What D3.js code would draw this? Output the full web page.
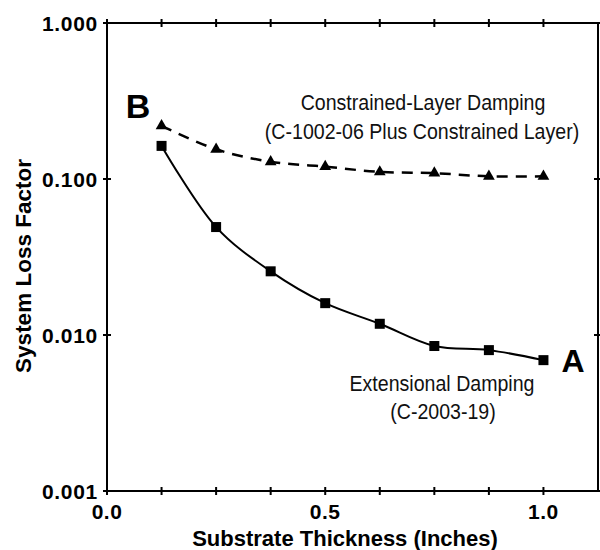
<!DOCTYPE html>
<html>
<head>
<meta charset="utf-8">
<script src="https://cdn.jsdelivr.net/npm/d3@7"></script>
<style>
  body { margin: 0; background: #fff; }
  text { fill: #000; }
</style>
</head>
<body>
<div id="chart"></div>
<script>
// data
const thickness = [0.125, 0.25, 0.375, 0.5, 0.625, 0.75, 0.875, 1.0];
const extensional = [0.163, 0.0492, 0.0256, 0.0160, 0.0118, 0.0085, 0.0080, 0.0069];
const constrained = [0.219, 0.155, 0.129, 0.120, 0.111, 0.109, 0.104, 0.104];
const xTicks = [0, 0.125, 0.25, 0.375, 0.5, 0.625, 0.75, 0.875, 1.0];
const xLabels = [0, 0.5, 1.0];
const yTicks = [0.001, 0.01, 0.1, 1];

const margin = { top: 23, right: 2, bottom: 59, left: 107 },
  width = 600 - margin.left - margin.right,
  height = 550 - margin.top - margin.bottom;

const svg = d3.select('#chart')
  .append('svg')
  .attr('width', 600)
  .attr('height', 550)
  .style('font-family', '"Liberation Sans", Arial, sans-serif');

const g = svg.append('g')
  .attr('transform', `translate(${margin.left},${margin.top})`);

const x = d3.scaleLinear().domain([0, 1.125]).range([0, width]);
const y = d3.scaleLog().domain([0.001, 1]).range([height, 0]);

// frame
g.append('rect')
  .attr('width', width)
  .attr('height', height)
  .attr('fill', 'none')
  .attr('stroke', '#000')
  .attr('stroke-width', 2);

// ticks crossing the frame
const tickLen = 4;
[0, height].forEach(yy => {
  g.selectAll(null)
    .data(xTicks)
    .join('line')
    .attr('x1', d => x(d)).attr('x2', d => x(d))
    .attr('y1', yy - tickLen).attr('y2', yy + tickLen)
    .attr('stroke', '#000').attr('stroke-width', 2);
});
[0, width].forEach(xx => {
  g.selectAll(null)
    .data(yTicks)
    .join('line')
    .attr('y1', d => y(d)).attr('y2', d => y(d))
    .attr('x1', xx - tickLen).attr('x2', xx + tickLen)
    .attr('stroke', '#000').attr('stroke-width', 2);
});

// tick labels
g.selectAll('text.xlab')
  .data(xLabels)
  .join('text')
  .attr('class', 'xlab')
  .attr('x', d => x(d))
  .attr('y', height + 28)
  .attr('text-anchor', 'middle')
  .style('font-size', '21px')
  .style('font-weight', 'bold')
  .style('letter-spacing', '0.5px')
  .text(d => d3.format('.1f')(d));

g.selectAll('text.ylab')
  .data(yTicks)
  .join('text')
  .attr('class', 'ylab')
  .attr('x', -9)
  .attr('y', d => y(d))
  .attr('dy', '0.36em')
  .attr('text-anchor', 'end')
  .style('font-size', '21px')
  .style('font-weight', 'bold')
  .style('letter-spacing', '0.7px')
  .text(d => d3.format('.3f')(d));

// axis titles
svg.append('text')
  .attr('x', 345)
  .attr('y', 546)
  .attr('text-anchor', 'middle')
  .style('font-size', '22px')
  .style('font-weight', 'bold')
  .text('Substrate Thickness (Inches)');

svg.append('text')
  .attr('transform', 'translate(31,266) rotate(-90)')
  .attr('text-anchor', 'middle')
  .style('font-size', '22.5px')
  .style('font-weight', 'bold')
  .text('System Loss Factor');

// lines
const ext = thickness.map((t, i) => ({ t, v: extensional[i] }));
const con = thickness.map((t, i) => ({ t, v: constrained[i] }));

const lineGen = d3.line()
  .x(d => x(d.t))
  .y(d => y(d.v))
  .curve(d3.curveCatmullRom);

g.append('path')
  .datum(con)
  .attr('d', lineGen)
  .attr('fill', 'none')
  .attr('stroke', '#000')
  .attr('stroke-width', 2.5)
  .attr('stroke-dasharray', '11,8');

g.append('path')
  .datum(ext)
  .attr('d', lineGen)
  .attr('fill', 'none')
  .attr('stroke', '#000')
  .attr('stroke-width', 2);

// markers
g.selectAll('rect.sq')
  .data(ext)
  .join('rect')
  .attr('class', 'sq')
  .attr('x', d => x(d.t) - 5)
  .attr('y', d => y(d.v) - 5)
  .attr('width', 10)
  .attr('height', 10)
  .attr('fill', '#000');

g.selectAll('path.tri')
  .data(con)
  .join('path')
  .attr('class', 'tri')
  .attr('transform', d => `translate(${x(d.t)},${y(d.v)})`)
  .attr('d', d3.symbol(d3.symbolTriangle, 60))
  .attr('fill', '#000');

// annotations (condensed light text)
const notes = [
  { text: 'Constrained-Layer Damping', x: 423, y: 110 },
  { text: '(C-1002-06 Plus Constrained Layer)', x: 422, y: 139 },
  { text: 'Extensional Damping', x: 442, y: 391 },
  { text: '(C-2003-19)', x: 443, y: 419 }
];
svg.selectAll('text.note')
  .data(notes)
  .join('text')
  .attr('class', 'note')
  .attr('transform', d => `translate(${d.x},${d.y}) scale(0.89,1)`)
  .attr('text-anchor', 'middle')
  .style('font-size', '22px')
  .style('fill', '#111')
  .text(d => d.text);

svg.append('text').attr('x', 138).attr('y', 118).attr('text-anchor', 'middle')
  .style('font-size', '34px').style('font-weight', 'bold').text('B');
svg.append('text').attr('x', 573).attr('y', 372).attr('text-anchor', 'middle')
  .style('font-size', '32px').style('font-weight', 'bold').text('A');
</script>
</body>
</html>
